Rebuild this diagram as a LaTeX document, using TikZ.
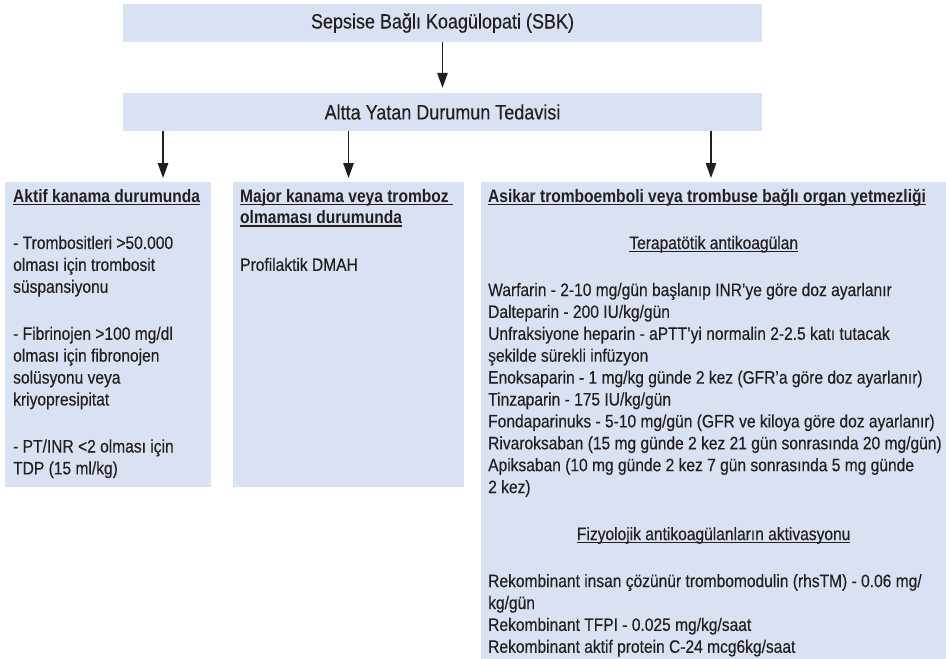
\documentclass[tikz,border=0pt]{standalone}
\usepackage{fontspec}
\setmainfont{Liberation Sans}[FakeStretch=0.865, UprightFeatures={FakeBold=0.3}]
\usetikzlibrary{arrows.meta}
\definecolor{boxfill}{HTML}{D9E2F3}
\definecolor{ink}{HTML}{231F20}
% underline drawn just below the baseline, crossing the descenders
\newcommand{\hdul}[1]{\setbox0\hbox{#1}\rlap{\rule[-2.6pt]{\wd0}{1.1pt}}\box0}
\newcommand{\pgap}{\vskip 25.1pt}
\newcommand{\bodysize}{\fontsize{18}{21.9}\selectfont}
\newcommand{\ctr}[1]{\hbox to 451pt{\hfil#1\hfil}}

\begin{document}
\begin{tikzpicture}[x=1pt,y=-1pt,
  panel/.style={fill=boxfill, draw=none, inner sep=0pt, anchor=north west},
  banner/.style={fill=boxfill, draw=none, inner sep=0pt, minimum width=639pt,
    minimum height=38pt, font=\fontsize{20.8}{24}\selectfont, text=ink},
  body/.style={inner sep=0pt, anchor=base west, text=ink, font=\bodysize},
  flow/.style={draw=ink, line width=1.3pt,
    -{Triangle[length=15pt,width=10.5pt]}}]
\useasboundingbox (0,0) rectangle (946,659);

% header banners
\node[banner] (sbk) at (442.5,23) {Sepsise Bağlı Koagülopati (SBK)};
\node[banner] (alt) at (442.5,112) {Altta Yatan Durumun Tedavisi};

% three treatment panels
\node[panel, minimum width=206pt, minimum height=305pt] (colA) at (5,182) {};
\node[panel, minimum width=231pt, minimum height=305pt] (colB) at (233,182) {};
\node[panel, minimum width=465pt, minimum height=477pt] (colC) at (481,182) {};

% arrow entry points on the panel tops
\coordinate (pA) at (163,182);
\coordinate (pB) at (348.5,182);
\coordinate (pC) at (711,182);

\draw[flow, shorten >=5pt] (sbk.south) -- (alt.north);
\draw[flow, shorten >=4pt] (alt.south -| pA) -- (pA);
\draw[flow, shorten >=4pt] (alt.south -| pB) -- (pB);
\draw[flow, shorten >=4pt] (alt.south -| pC) -- (pC);

% panel texts
\node[body] (txtA) at (13,202) {\vtop{%
  \hbox{\hdul{\bfseries Aktif kanama durumunda}}\pgap
  \hbox{- Trombositleri >50.000}
  \hbox{olması için trombosit}
  \hbox{süspansiyonu}\pgap
  \hbox{- Fibrinojen >100 mg/dl}
  \hbox{olması için fibronojen}
  \hbox{solüsyonu veya}
  \hbox{kriyopresipitat}\pgap
  \hbox{- PT/INR <2 olması için}
  \hbox{TDP (15 ml/kg)}}};

\node[body] (txtB) at (240,202) {\vtop{%
  \hbox{\hdul{\bfseries Major kanama veya tromboz\ }}
  \hbox{\hdul{\bfseries olmaması durumunda}}\pgap
  \hbox{Profilaktik DMAH}}};

\node[body] (txtC) at (488,202) {\vtop{%
  \hbox{\hdul{\bfseries Asikar tromboemboli veya trombuse bağlı organ yetmezliği}}\pgap
  \ctr{\hdul{Terapatötik antikoagülan}}\pgap
  \hbox{Warfarin - 2-10 mg/gün başlanıp INR’ye göre doz ayarlanır}
  \hbox{Dalteparin - 200 IU/kg/gün}
  \hbox{Unfraksiyone heparin - aPTT’yi normalin 2-2.5 katı tutacak}
  \hbox{şekilde sürekli infüzyon}
  \hbox{Enoksaparin - 1 mg/kg günde 2 kez (GFR’a göre doz ayarlanır)}
  \hbox{Tinzaparin - 175 IU/kg/gün}
  \hbox{Fondaparinuks - 5-10 mg/gün (GFR ve kiloya göre doz ayarlanır)}
  \hbox{Rivaroksaban (15 mg günde 2 kez 21 gün sonrasında 20 mg/gün)}
  \hbox{Apiksaban (10 mg günde 2 kez 7 gün sonrasında 5 mg günde}
  \hbox{2 kez)}\pgap
  \ctr{\hdul{Fizyolojik antikoagülanların aktivasyonu}}\pgap
  \hbox{Rekombinant insan çözünür trombomodulin (rhsTM) - 0.06 mg/}
  \hbox{kg/gün}
  \hbox{Rekombinant TFPI - 0.025 mg/kg/saat}
  \hbox{Rekombinant aktif protein C-24 mcg6kg/saat}}};
\end{tikzpicture}
\end{document}
